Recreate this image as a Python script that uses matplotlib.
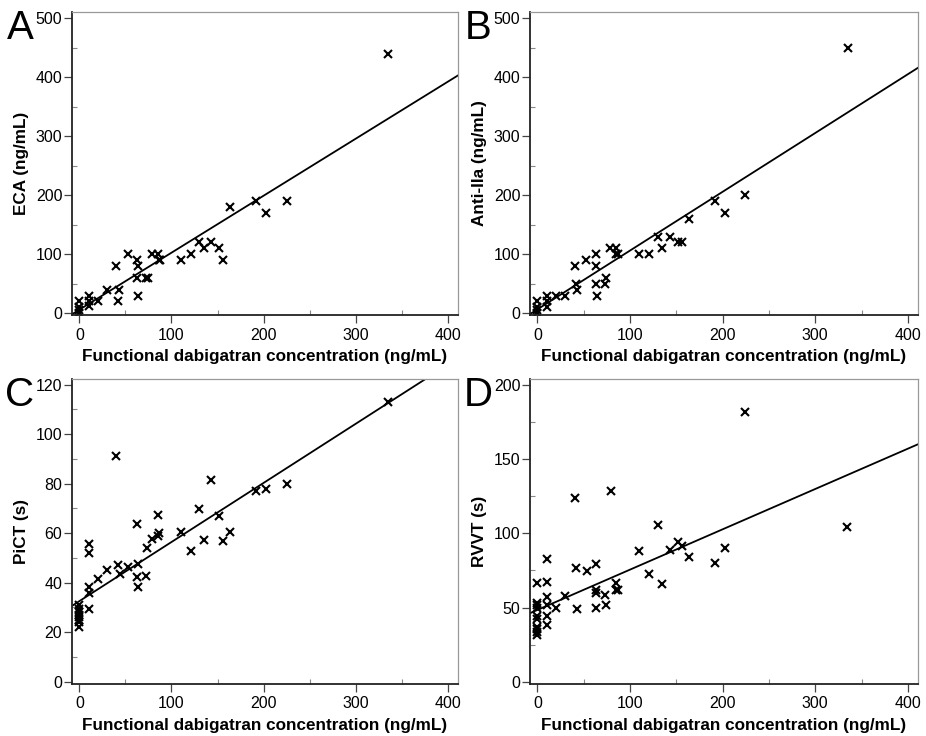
import numpy as np
import matplotlib
matplotlib.use("Agg")
import matplotlib.pyplot as plt
from matplotlib.ticker import MultipleLocator

plt.rcParams['font.family'] = ['Liberation Sans', 'DejaVu Sans']

#----------------------------------------------------DATA-------------------------------------------------
xA = [335, 164, 192, 203, 225, 130, 135, 143, 152, 156, 121, 110, 86, 88, 79, 85, 53, 62.5, 63.6, 40, 62.5, 72.7, 74,
      63.6, 30, 42.7, 41.6, 20, 10, 10, 10, 0, 0, 0, 0]
yA = [440, 180, 190, 170, 190, 120, 110, 120, 110, 90, 100, 90, 90, 90, 100, 100, 100, 90, 80, 80, 60, 60, 60,
      30, 40, 40, 20, 20, 30, 20, 12, 20, 10, 5, 0]
fitA = (0.967, 6.0)          # slope, intercept

xB = [335, 224.5, 191.6, 202.8, 163.8, 129.8, 142.8, 151.8, 156.2, 134.8, 110, 120.8, 78.8, 84.6, 85.3, 86.8, 53,
      62.9, 63.6, 40.1, 73.8, 72.7, 62.9, 64, 42, 42.7, 30, 20, 10, 10, 10, 0, 0, 0, 0]
yB = [450, 200, 190, 170, 160, 130, 130, 120, 120, 110, 100, 100, 110, 110, 100, 100, 90,
      100, 80, 80, 60, 50, 50, 30, 50, 40, 30, 30, 30, 20, 10, 20, 10, 5, 0]
fitB = (0.997, 6.6)

xC = [335, 39.8, 142.8, 191.6, 202.8, 224.9, 129.8, 151.8, 85, 62.5, 109.9, 163.8, 86.8, 85, 78.5, 134.8, 155.8,
      120.8, 73.8, 10, 10, 63.6, 41.6, 52.8, 30, 43.7, 19.9, 62.5, 72.7, 63.6, 10, 10, 10,
      0, 0, 0, 0, 0, 0, 0, 0]
yC = [113, 91.2, 81.4, 77.1, 77.8, 80, 69.8, 66.9, 67.3, 63.8, 60.6, 60.6, 60, 58.7, 57.8, 57.4, 56.8,
      52.8, 54, 55.6, 52.1, 47.4, 47.1, 46.1, 45, 43.4, 41.4, 42.2, 42.8, 38.1, 38.3, 35.6, 29.4,
      31, 29.5, 28, 27, 26, 25, 24, 22]
fitC = (0.239, 32.5)

xD = [224.5, 334.8, 40.1, 79.2, 129.8, 152.2, 142.8, 156.2, 109.9, 202.8, 163.8, 191.6, 62.9, 42, 53.1, 120.8,
      10, 0, 10, 84.9, 134.8, 63.6, 62.9, 85, 86.8, 73, 30, 10, 73.8, 10, 19.9, 42.7, 63.6, 10, 10,
      0, 0, 0, 0, 0, 0, 0, 0, 0]
yD = [181.5, 104.6, 123.7, 128.4, 105.5, 94.1, 88.9, 91.2, 87.8, 89.8, 84.2, 79.7, 79.1, 76.4, 74.6, 72.4,
      82.4, 66.8, 67.4, 66.5, 65.9, 61.6, 60, 61.8, 61.8, 58.2, 57.8, 57.1, 51.5, 51.7, 49.7, 49.3, 50, 44.4, 38.3,
      52.9, 51.5, 50, 44.1, 42.6, 37, 35.4, 33.6, 31.4]
fitD = (0.2716, 48.4)

panels = ['A', 'B', 'C', 'D']
ylabels = ['ECA (ng/mL)', 'Anti-IIa (ng/mL)', 'PiCT (s)', 'RVVT (s)']
xlabel = 'Functional dabigatran concentration (ng/mL)'

#----------------------------------------------------------PLOTTING--------------------------------------------------------------
W, H = 926, 736
fig = plt.figure(figsize=(W / 100, H / 100), dpi=100)

# axes boxes in pixels: left, top, right, bottom
boxes = [(72, 12, 458, 315), (530, 12, 918, 315), (72, 379, 458, 684), (530, 379, 918, 684)]
ylims = [(-3, 511), (-3, 511), (-1, 122.3), (-1.5, 204)]
ymajor = [100, 100, 20, 50]
yminor = [50, 50, 10, 25]
xs = [xA, xB, xC, xD]
ys = [yA, yB, yC, yD]
fits = [fitA, fitB, fitC, fitD]

for i in range(4):
    l, t, r, b = boxes[i]
    ax = fig.add_axes([l / W, 1 - b / H, (r - l) / W, (b - t) / H])
    ax.plot(xs[i], ys[i], 'x', color='black', markersize=5.5, markeredgewidth=1.5)
    xl = np.array([-8, 411])
    ax.plot(xl, fits[i][0] * xl + fits[i][1], color='black', linewidth=1.3)
    ax.set_xlim(-8, 411)
    ax.set_ylim(*ylims[i])
    ax.xaxis.set_major_locator(MultipleLocator(100))
    ax.xaxis.set_minor_locator(MultipleLocator(50))
    ax.yaxis.set_major_locator(MultipleLocator(ymajor[i]))
    ax.yaxis.set_minor_locator(MultipleLocator(yminor[i]))
    ax.tick_params(which='major', direction='out', length=6, width=0.9, labelsize=11.5, color='#444444')
    ax.tick_params(axis='y', which='major', pad=1)
    ax.tick_params(axis='x', which='major', pad=3)
    ax.tick_params(which='minor', direction='in', length=3.5, width=0.8, color='#888888')
    ax.tick_params(top=False, right=False, which='both')
    for s in ['left', 'bottom']:
        ax.spines[s].set_color('#222222')
        ax.spines[s].set_linewidth(1.3)
    for s in ['top', 'right']:
        ax.spines[s].set_color('#999999')
        ax.spines[s].set_linewidth(0.9)
    ax.set_xlabel(xlabel, fontsize=12.3, fontweight='bold', labelpad=5)
    ax.set_ylabel(ylabels[i], fontsize=12.3, fontweight='bold', labelpad=5)
    fig.text((l - 52) / W, 1 - (t - 3) / H, panels[i], fontsize=29, va='top', ha='center')

fig.savefig('out.png', dpi=100)
